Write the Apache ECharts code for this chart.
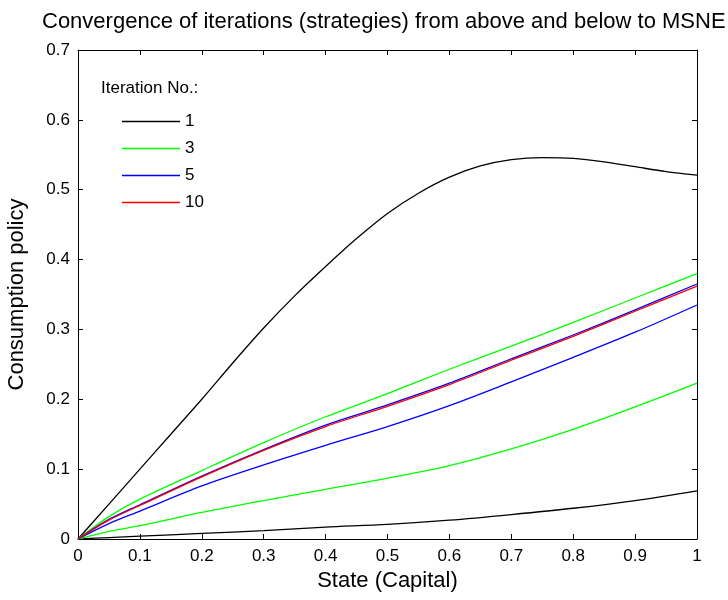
<!DOCTYPE html>
<html>
<head>
<meta charset="utf-8">
<script src="https://cdn.jsdelivr.net/npm/echarts@6/dist/echarts.min.js"></script>
<style>html,body{margin:0;padding:0;background:#fff;}#c{width:728px;height:600px;}</style>
</head>
<body>
<div id="c"></div>
<script>
var xFine = [0,0.05,0.1,0.15,0.2,0.25,0.3,0.35,0.4,0.45,0.5,0.55,0.6,0.65,0.7,0.75,0.8,0.85,0.9,0.95,1.0];
var iter1Above = [0,0.05,0.1,0.15,0.2,0.252,0.302,0.348,0.39,0.43,0.466,0.495,0.518,0.534,0.543,0.546,0.545,0.54,0.533,0.526,0.521];
var xGrid = [0,0.05,0.1,0.2,0.3,0.4,0.5,0.6,0.7,0.8,0.9,1.0];
var iter1Below = [0,0.002,0.004,0.008,0.012,0.017,0.021,0.027,0.035,0.044,0.055,0.069];
var iter3Above = [0,0.032,0.057,0.098,0.138,0.175,0.208,0.243,0.276,0.31,0.345,0.38];
var iter3Below = [0,0.011,0.019,0.038,0.055,0.071,0.087,0.105,0.129,0.157,0.189,0.223];
var iter5Above = [0,0.028,0.049,0.09,0.128,0.163,0.192,0.223,0.258,0.292,0.328,0.365];
var iter5Below = [0,0.022,0.04,0.076,0.106,0.134,0.161,0.191,0.225,0.26,0.296,0.335];
var iter10 = [0,0.027,0.048,0.089,0.127,0.161,0.19,0.221,0.256,0.29,0.326,0.362];
var legendNames = ['1','3','5','10'];

function pairs(xs, ys){ return xs.map(function(x,i){ return [x, ys[i]]; }); }

var FONT = 'Liberation Sans, Arial, sans-serif';
var chart = echarts.init(document.getElementById('c'), null, {renderer:'canvas'});
function mkSeries(name, color, xs, ys){
  return {name:name, type:'line', data:pairs(xs,ys), symbol:'none', smooth:0.3,
    lineStyle:{color:color, width:1.3}, itemStyle:{color:color}, animation:false, z:2};
}
var axisCommon = {
  type:'value', axisLine:{show:true, onZero:false, lineStyle:{color:'#000', width:1}},
  axisTick:{show:true, inside:true, length:5, lineStyle:{color:'#000'}},
  splitLine:{show:false}
};
chart.setOption({
  backgroundColor:'#fff',
  animation:false,
  title:{text:'Convergence of iterations (strategies) from above and below to MSNE', left:37, top:6,
    textStyle:{fontFamily:FONT, fontWeight:'normal', fontSize:22, color:'#000'}},
  grid:{left:78, right:31, top:50, bottom:61, containLabel:false, outerBoundsMode:'none'},
  legend:{data:legendNames, orient:'vertical', left:117, top:108, itemWidth:58, itemHeight:14, itemGap:10,
    icon:'path://M0,0L58,0L58,1.4L0,1.4Z',
    textStyle:{fontFamily:FONT, fontSize:17, color:'#000'}, selectedMode:false},
  graphic:[{type:'text', left:101, top:80, style:{text:'Iteration No.:', font:'17px Liberation Sans, Arial, sans-serif', fill:'#000'}}],
  xAxis:[
    Object.assign({}, axisCommon, {min:0, max:1, interval:0.1, position:'bottom',
      name:'State (Capital)', nameLocation:'middle', nameGap:30,
      nameTextStyle:{fontFamily:FONT, fontSize:22, color:'#000'},
      axisLabel:{fontFamily:FONT, fontSize:17, color:'#000', margin:9, showMinLabel:true, showMaxLabel:true}}),
    Object.assign({}, axisCommon, {min:0, max:1, interval:0.1, position:'top', axisLabel:{show:false}})
  ],
  yAxis:[
    Object.assign({}, axisCommon, {min:0, max:0.7, interval:0.1, position:'left',
      name:'Consumption policy', nameLocation:'middle', nameGap:50, nameRotate:90,
      nameTextStyle:{fontFamily:FONT, fontSize:22, color:'#000'},
      axisLabel:{fontFamily:FONT, fontSize:17, color:'#000', margin:8}}),
    Object.assign({}, axisCommon, {min:0, max:0.7, interval:0.1, position:'right', axisLabel:{show:false}})
  ],
  series:[
    mkSeries('1', '#000000', xFine, iter1Above),
    mkSeries('1', '#000000', xGrid, iter1Below),
    mkSeries('3', '#00ff00', xGrid, iter3Above),
    mkSeries('3', '#00ff00', xGrid, iter3Below),
    mkSeries('5', '#0000ff', xGrid, iter5Above),
    mkSeries('5', '#0000ff', xGrid, iter5Below),
    mkSeries('10', '#ff0000', xGrid, iter10)
  ]
});
</script>
</body>
</html>
